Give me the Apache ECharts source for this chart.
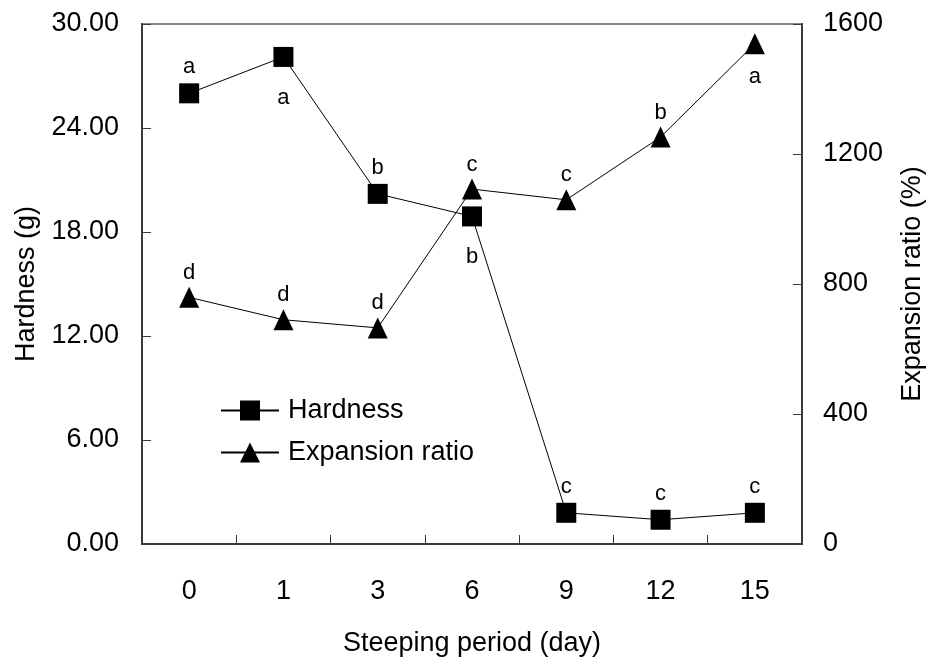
<!DOCTYPE html>
<html>
<head>
<meta charset="utf-8">
<title>Hardness and expansion ratio vs steeping period</title>
<script src="https://cdn.jsdelivr.net/npm/echarts@6/dist/echarts.min.js"></script>
<style>
  html, body { margin: 0; padding: 0; background: #fff; }
  #chart { width: 938px; height: 664px; }
</style>
</head>
<body>
<div id="chart"></div>
<script>
// Steeping period (days) on the category axis
const categories = ['0', '1', '3', '6', '9', '12', '15'];
// Hardness (g), left axis
const hardness = [26.0, 28.1, 20.2, 18.9, 1.8, 1.4, 1.8];
// Expansion ratio (%), right axis
const expansion = [759, 690, 665, 1092, 1059, 1252, 1539];
// Significance letters for each point
const hardnessLetters = ['a', 'a', 'b', 'b', 'c', 'c', 'c'];
const expansionLetters = ['d', 'd', 'd', 'c', 'c', 'b', 'a'];

const FONT = '"Liberation Sans", Arial, sans-serif';
const AXIS_COLOR = '#3a3a3a';

// Indices whose letters sit under the marker instead of over it
const hardnessBelow = [1, 3];
const expansionBelow = [6];

function withLetters(values, letters, below, topDist, bottomDist) {
  return values.map((v, i) => ({
    value: v,
    label: {
      show: true,
      formatter: letters[i],
      position: below.includes(i) ? 'bottom' : 'top',
      distance: below.includes(i) ? bottomDist : topDist,
      fontFamily: FONT,
      fontSize: 22,
      color: '#000'
    }
  }));
}

const chart = echarts.init(document.getElementById('chart'), null, { renderer: 'canvas' });

chart.setOption({
  animation: false,
  backgroundColor: '#fff',
  textStyle: { fontFamily: FONT, color: '#000' },
  grid: {
    left: 142, right: 136, top: 24, bottom: 120,
    show: true,
    borderColor: '#8a8a8a',
    borderWidth: 2,
    containLabel: false
  },
  legend: {
    orient: 'vertical',
    left: 215,
    top: 392,
    itemWidth: 58,
    itemHeight: 25,
    itemGap: 15,
    textStyle: { fontFamily: FONT, fontSize: 27, color: '#000', padding: [0, 0, 0, 4] },
    data: ['Hardness', 'Expansion ratio']
  },
  xAxis: {
    type: 'category',
    data: categories,
    boundaryGap: true,
    axisLine: { show: true, lineStyle: { color: AXIS_COLOR, width: 2 } },
    axisTick: { show: true, inside: true, length: 9, alignWithLabel: false, lineStyle: { color: AXIS_COLOR, width: 1 } },
    axisLabel: { margin: 34, fontFamily: FONT, fontSize: 27, color: '#000' },
    splitLine: { show: false },
    name: 'Steeping period (day)',
    nameLocation: 'middle',
    nameGap: 86,
    nameTextStyle: { fontFamily: FONT, fontSize: 27, color: '#000' }
  },
  yAxis: [
    {
      type: 'value',
      position: 'left',
      min: 0, max: 30, interval: 6,
      axisLine: { show: true, lineStyle: { color: AXIS_COLOR, width: 2 } },
      axisTick: { show: true, inside: true, length: 9, lineStyle: { color: AXIS_COLOR, width: 1 } },
      axisLabel: { margin: 23, fontFamily: FONT, fontSize: 27, color: '#000', formatter: v => v.toFixed(2) },
      splitLine: { show: false },
      name: 'Hardness (g)',
      nameLocation: 'middle',
      nameRotate: 90,
      nameGap: 99,
      nameTextStyle: { fontFamily: FONT, fontSize: 27, color: '#000' }
    },
    {
      type: 'value',
      position: 'right',
      min: 0, max: 1600, interval: 400,
      axisLine: { show: true, lineStyle: { color: AXIS_COLOR, width: 2 } },
      axisTick: { show: true, inside: true, length: 9, lineStyle: { color: AXIS_COLOR, width: 1 } },
      axisLabel: { margin: 21, fontFamily: FONT, fontSize: 27, color: '#000', formatter: v => String(v) },
      splitLine: { show: false },
      name: 'Expansion ratio (%)',
      nameLocation: 'middle',
      nameRotate: 90,
      nameGap: 97,
      nameTextStyle: { fontFamily: FONT, fontSize: 27, color: '#000' }
    }
  ],
  series: [
    {
      name: 'Hardness',
      type: 'line',
      yAxisIndex: 0,
      data: withLetters(hardness, hardnessLetters, hardnessBelow, 5, 20),
      symbol: 'rect',
      symbolSize: 20,
      itemStyle: { color: '#000' },
      lineStyle: { color: '#000', width: 1 },
      z: 3
    },
    {
      name: 'Expansion ratio',
      type: 'line',
      yAxisIndex: 1,
      data: withLetters(expansion, expansionLetters, expansionBelow, 3, 12),
      symbol: 'triangle',
      symbolSize: [20, 21],
      itemStyle: { color: '#000' },
      lineStyle: { color: '#000', width: 1 },
      z: 3
    }
  ]
});
</script>
</body>
</html>
